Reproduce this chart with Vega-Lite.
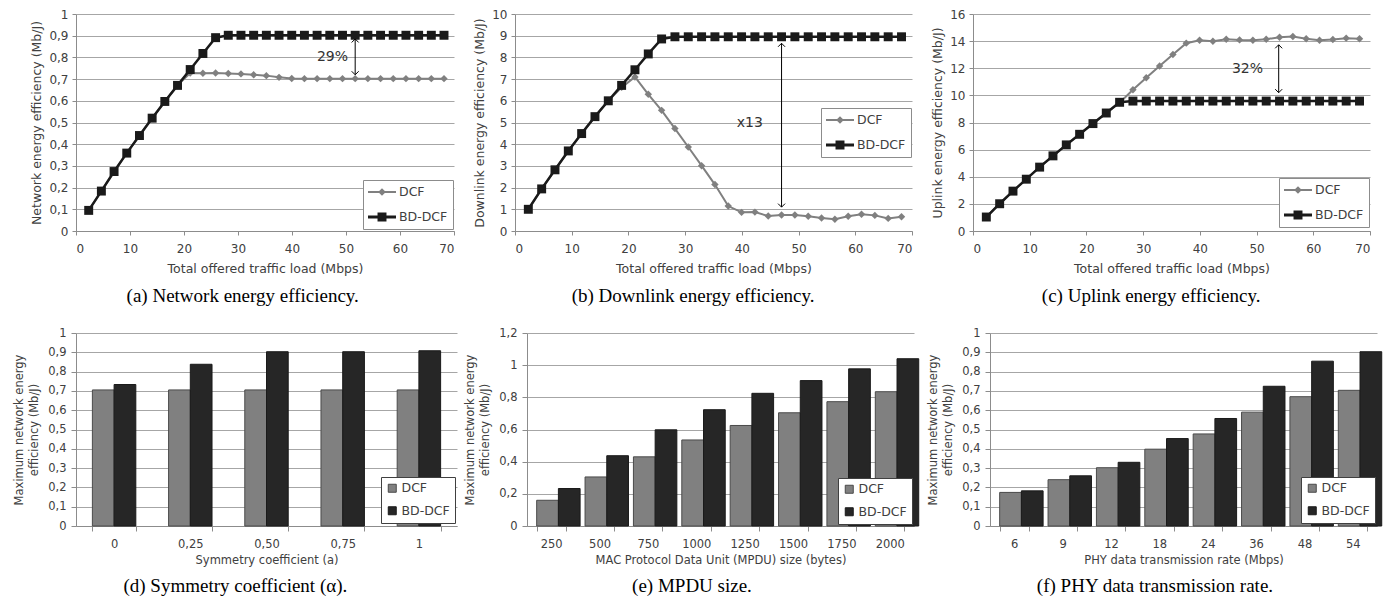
{
"$schema":"https://vega.github.io/schema/vega-lite/v6.json",
"padding":{"left":13,"top":8,"right":0,"bottom":0},
"background":"white",
"datasets":{
"a":[
{"x":2.35,"s":"DCF","y":0.095},{"x":4.7,"s":"DCF","y":0.184},{"x":7.05,"s":"DCF","y":0.274},{"x":9.4,"s":"DCF","y":0.359},{"x":11.75,"s":"DCF","y":0.44},{"x":14.1,"s":"DCF","y":0.52},{"x":16.45,"s":"DCF","y":0.597},{"x":18.8,"s":"DCF","y":0.671},{"x":21.15,"s":"DCF","y":0.728},{"x":23.5,"s":"DCF","y":0.727},{"x":25.85,"s":"DCF","y":0.728},{"x":28.2,"s":"DCF","y":0.726},{"x":30.55,"s":"DCF","y":0.724},{"x":32.9,"s":"DCF","y":0.72},{"x":35.25,"s":"DCF","y":0.716},{"x":37.6,"s":"DCF","y":0.708},{"x":39.95,"s":"DCF","y":0.703},{"x":42.3,"s":"DCF","y":0.702},{"x":44.65,"s":"DCF","y":0.702},{"x":47,"s":"DCF","y":0.702},{"x":49.35,"s":"DCF","y":0.702},{"x":51.7,"s":"DCF","y":0.702},{"x":54.05,"s":"DCF","y":0.702},{"x":56.4,"s":"DCF","y":0.702},{"x":58.75,"s":"DCF","y":0.702},{"x":61.1,"s":"DCF","y":0.702},{"x":63.45,"s":"DCF","y":0.702},{"x":65.8,"s":"DCF","y":0.702},{"x":68.15,"s":"DCF","y":0.702},
{"x":2.35,"s":"BD-DCF","y":0.095},{"x":4.7,"s":"BD-DCF","y":0.184},{"x":7.05,"s":"BD-DCF","y":0.274},{"x":9.4,"s":"BD-DCF","y":0.359},{"x":11.75,"s":"BD-DCF","y":0.44},{"x":14.1,"s":"BD-DCF","y":0.52},{"x":16.45,"s":"BD-DCF","y":0.597},{"x":18.8,"s":"BD-DCF","y":0.671},{"x":21.15,"s":"BD-DCF","y":0.744},{"x":23.5,"s":"BD-DCF","y":0.818},{"x":25.85,"s":"BD-DCF","y":0.891},{"x":28.2,"s":"BD-DCF","y":0.902},{"x":30.55,"s":"BD-DCF","y":0.902},{"x":32.9,"s":"BD-DCF","y":0.902},{"x":35.25,"s":"BD-DCF","y":0.902},{"x":37.6,"s":"BD-DCF","y":0.902},{"x":39.95,"s":"BD-DCF","y":0.902},{"x":42.3,"s":"BD-DCF","y":0.902},{"x":44.65,"s":"BD-DCF","y":0.902},{"x":47,"s":"BD-DCF","y":0.902},{"x":49.35,"s":"BD-DCF","y":0.902},{"x":51.7,"s":"BD-DCF","y":0.902},{"x":54.05,"s":"BD-DCF","y":0.902},{"x":56.4,"s":"BD-DCF","y":0.902},{"x":58.75,"s":"BD-DCF","y":0.902},{"x":61.1,"s":"BD-DCF","y":0.902},{"x":63.45,"s":"BD-DCF","y":0.902},{"x":65.8,"s":"BD-DCF","y":0.902},{"x":68.15,"s":"BD-DCF","y":0.902}
],
"b":[
{"x":2.35,"s":"DCF","y":1.0},{"x":4.7,"s":"DCF","y":1.94},{"x":7.05,"s":"DCF","y":2.82},{"x":9.4,"s":"DCF","y":3.69},{"x":11.75,"s":"DCF","y":4.49},{"x":14.1,"s":"DCF","y":5.27},{"x":16.45,"s":"DCF","y":6.0},{"x":18.8,"s":"DCF","y":6.62},{"x":21.15,"s":"DCF","y":7.1},{"x":23.5,"s":"DCF","y":6.3},{"x":25.85,"s":"DCF","y":5.56},{"x":28.2,"s":"DCF","y":4.72},{"x":30.55,"s":"DCF","y":3.87},{"x":32.9,"s":"DCF","y":3.01},{"x":35.25,"s":"DCF","y":2.14},{"x":37.6,"s":"DCF","y":1.15},{"x":39.95,"s":"DCF","y":0.86},{"x":42.3,"s":"DCF","y":0.87},{"x":44.65,"s":"DCF","y":0.69},{"x":47,"s":"DCF","y":0.74},{"x":49.35,"s":"DCF","y":0.74},{"x":51.7,"s":"DCF","y":0.68},{"x":54.05,"s":"DCF","y":0.6},{"x":56.4,"s":"DCF","y":0.54},{"x":58.75,"s":"DCF","y":0.68},{"x":61.1,"s":"DCF","y":0.77},{"x":63.45,"s":"DCF","y":0.72},{"x":65.8,"s":"DCF","y":0.58},{"x":68.15,"s":"DCF","y":0.66},
{"x":2.35,"s":"BD-DCF","y":1.0},{"x":4.7,"s":"BD-DCF","y":1.94},{"x":7.05,"s":"BD-DCF","y":2.82},{"x":9.4,"s":"BD-DCF","y":3.69},{"x":11.75,"s":"BD-DCF","y":4.49},{"x":14.1,"s":"BD-DCF","y":5.27},{"x":16.45,"s":"BD-DCF","y":6.0},{"x":18.8,"s":"BD-DCF","y":6.71},{"x":21.15,"s":"BD-DCF","y":7.43},{"x":23.5,"s":"BD-DCF","y":8.16},{"x":25.85,"s":"BD-DCF","y":8.85},{"x":28.2,"s":"BD-DCF","y":8.95},{"x":30.55,"s":"BD-DCF","y":8.95},{"x":32.9,"s":"BD-DCF","y":8.95},{"x":35.25,"s":"BD-DCF","y":8.95},{"x":37.6,"s":"BD-DCF","y":8.95},{"x":39.95,"s":"BD-DCF","y":8.95},{"x":42.3,"s":"BD-DCF","y":8.95},{"x":44.65,"s":"BD-DCF","y":8.95},{"x":47,"s":"BD-DCF","y":8.95},{"x":49.35,"s":"BD-DCF","y":8.95},{"x":51.7,"s":"BD-DCF","y":8.95},{"x":54.05,"s":"BD-DCF","y":8.95},{"x":56.4,"s":"BD-DCF","y":8.95},{"x":58.75,"s":"BD-DCF","y":8.95},{"x":61.1,"s":"BD-DCF","y":8.95},{"x":63.45,"s":"BD-DCF","y":8.95},{"x":65.8,"s":"BD-DCF","y":8.95},{"x":68.15,"s":"BD-DCF","y":8.95}
],
"c":[
{"x":2.35,"s":"DCF","y":1.03},{"x":4.7,"s":"DCF","y":2.01},{"x":7.05,"s":"DCF","y":2.94},{"x":9.4,"s":"DCF","y":3.82},{"x":11.75,"s":"DCF","y":4.71},{"x":14.1,"s":"DCF","y":5.54},{"x":16.45,"s":"DCF","y":6.35},{"x":18.8,"s":"DCF","y":7.13},{"x":21.15,"s":"DCF","y":7.92},{"x":23.5,"s":"DCF","y":8.7},{"x":25.85,"s":"DCF","y":9.45},{"x":28.2,"s":"DCF","y":10.42},{"x":30.55,"s":"DCF","y":11.3},{"x":32.9,"s":"DCF","y":12.16},{"x":35.25,"s":"DCF","y":13.01},{"x":37.6,"s":"DCF","y":13.85},{"x":39.95,"s":"DCF","y":14.07},{"x":42.3,"s":"DCF","y":13.99},{"x":44.65,"s":"DCF","y":14.14},{"x":47,"s":"DCF","y":14.09},{"x":49.35,"s":"DCF","y":14.07},{"x":51.7,"s":"DCF","y":14.14},{"x":54.05,"s":"DCF","y":14.29},{"x":56.4,"s":"DCF","y":14.34},{"x":58.75,"s":"DCF","y":14.17},{"x":61.1,"s":"DCF","y":14.07},{"x":63.45,"s":"DCF","y":14.12},{"x":65.8,"s":"DCF","y":14.22},{"x":68.15,"s":"DCF","y":14.17},
{"x":2.35,"s":"BD-DCF","y":1.03},{"x":4.7,"s":"BD-DCF","y":2.01},{"x":7.05,"s":"BD-DCF","y":2.94},{"x":9.4,"s":"BD-DCF","y":3.82},{"x":11.75,"s":"BD-DCF","y":4.71},{"x":14.1,"s":"BD-DCF","y":5.54},{"x":16.45,"s":"BD-DCF","y":6.35},{"x":18.8,"s":"BD-DCF","y":7.13},{"x":21.15,"s":"BD-DCF","y":7.92},{"x":23.5,"s":"BD-DCF","y":8.7},{"x":25.85,"s":"BD-DCF","y":9.49},{"x":28.2,"s":"BD-DCF","y":9.58},{"x":30.55,"s":"BD-DCF","y":9.58},{"x":32.9,"s":"BD-DCF","y":9.58},{"x":35.25,"s":"BD-DCF","y":9.58},{"x":37.6,"s":"BD-DCF","y":9.58},{"x":39.95,"s":"BD-DCF","y":9.58},{"x":42.3,"s":"BD-DCF","y":9.58},{"x":44.65,"s":"BD-DCF","y":9.58},{"x":47,"s":"BD-DCF","y":9.58},{"x":49.35,"s":"BD-DCF","y":9.58},{"x":51.7,"s":"BD-DCF","y":9.58},{"x":54.05,"s":"BD-DCF","y":9.58},{"x":56.4,"s":"BD-DCF","y":9.58},{"x":58.75,"s":"BD-DCF","y":9.58},{"x":61.1,"s":"BD-DCF","y":9.58},{"x":63.45,"s":"BD-DCF","y":9.58},{"x":65.8,"s":"BD-DCF","y":9.58},{"x":68.15,"s":"BD-DCF","y":9.58}
],
"a_ann":[{"k":"t","x":47.5,"y":0.8,"t":"29%"},{"k":"up","x":51.7,"y":0.885},{"k":"dn","x":51.7,"y":0.72},{"k":"r","x":51.7,"y":0.885,"y2":0.72}],
"b_ann":[{"k":"t","x":41.4,"y":5.0,"t":"x13"},{"k":"up","x":47,"y":8.65},{"k":"dn","x":47,"y":1.1},{"k":"r","x":47,"y":8.65,"y2":1.1}],
"c_ann":[{"k":"t","x":48.4,"y":11.95,"t":"32%"},{"k":"up","x":53.9,"y":13.73},{"k":"dn","x":53.9,"y":10.2},{"k":"r","x":53.9,"y":13.73,"y2":10.2}],
"d":[
{"c":"0","s":"DCF","v":0.705},{"c":"0","s":"BD-DCF","v":0.733},
{"c":"0,25","s":"DCF","v":0.705},{"c":"0,25","s":"BD-DCF","v":0.838},
{"c":"0,50","s":"DCF","v":0.705},{"c":"0,50","s":"BD-DCF","v":0.903},
{"c":"0,75","s":"DCF","v":0.705},{"c":"0,75","s":"BD-DCF","v":0.903},
{"c":"1","s":"DCF","v":0.705},{"c":"1","s":"BD-DCF","v":0.908}
],
"e":[
{"c":"250","s":"DCF","v":0.16},{"c":"250","s":"BD-DCF","v":0.233},
{"c":"500","s":"DCF","v":0.305},{"c":"500","s":"BD-DCF","v":0.437},
{"c":"750","s":"DCF","v":0.43},{"c":"750","s":"BD-DCF","v":0.598},
{"c":"1000","s":"DCF","v":0.535},{"c":"1000","s":"BD-DCF","v":0.723},
{"c":"1250","s":"DCF","v":0.625},{"c":"1250","s":"BD-DCF","v":0.825},
{"c":"1500","s":"DCF","v":0.704},{"c":"1500","s":"BD-DCF","v":0.904},
{"c":"1750","s":"DCF","v":0.773},{"c":"1750","s":"BD-DCF","v":0.977},
{"c":"2000","s":"DCF","v":0.835},{"c":"2000","s":"BD-DCF","v":1.04}
],
"f":[
{"c":"6","s":"DCF","v":0.174},{"c":"6","s":"BD-DCF","v":0.182},
{"c":"9","s":"DCF","v":0.24},{"c":"9","s":"BD-DCF","v":0.26},
{"c":"12","s":"DCF","v":0.302},{"c":"12","s":"BD-DCF","v":0.33},
{"c":"18","s":"DCF","v":0.398},{"c":"18","s":"BD-DCF","v":0.453},
{"c":"24","s":"DCF","v":0.477},{"c":"24","s":"BD-DCF","v":0.557},
{"c":"36","s":"DCF","v":0.59},{"c":"36","s":"BD-DCF","v":0.724},
{"c":"48","s":"DCF","v":0.67},{"c":"48","s":"BD-DCF","v":0.854},
{"c":"54","s":"DCF","v":0.703},{"c":"54","s":"BD-DCF","v":0.903}
]
},
"spacing":21,
"resolve":{"scale":{"color":"independent","shape":"independent","stroke":"independent"},"legend":{"color":"independent","shape":"independent","stroke":"independent"}},
"vconcat":[
{"hconcat":[
{"width":378,"height":217,"title":{"text":"(a) Network energy efficiency.","offset":12},
"encoding":{"x":{"field":"x","type":"quantitative","scale":{"domain":[0,70],"nice":false},"axis":{"values":[0,10,20,30,40,50,60,70],"title":"Total offered  traffic load (Mbps)","grid":false,"tickSize":4,"labelPadding":8,"titlePadding":8,"labelFontSize":12,"titleFontSize":12.5}},
"y":{"field":"y","type":"quantitative","scale":{"domain":[0,1],"nice":false},"axis":{"values":[0,0.1,0.2,0.3,0.4,0.5,0.6,0.7,0.8,0.9,1],"labelExpr":"replace(format(datum.value,'~g'),'.',',')","title":"Network energy efficiency  (Mb/J)","grid":true,"tickSize":4,"labelPadding":4,"titlePadding":5,"labelFontSize":12,"titleFontSize":12.5}}},
"layer":[
{"data":{"name":"a"},"transform":[{"filter":"datum.s=='DCF'"}],"mark":{"type":"line","color":"#808080","strokeWidth":2}},
{"data":{"name":"a"},"transform":[{"filter":"datum.s=='DCF'"}],"mark":{"type":"point","shape":"diamond","filled":true,"color":"#808080","size":55,"opacity":1}},
{"data":{"name":"a"},"transform":[{"filter":"datum.s=='BD-DCF'"}],"mark":{"type":"line","color":"#1a1a1a","strokeWidth":2.5}},
{"data":{"name":"a"},"transform":[{"filter":"datum.s=='BD-DCF'"}],"mark":{"type":"point","shape":"square","filled":true,"color":"#1a1a1a","size":80,"opacity":1}},
{"data":{"name":"a"},"transform":[{"filter":"false"}],"mark":{"type":"point","filled":true,"opacity":1},"encoding":{
"color":{"field":"s","type":"nominal","scale":{"domain":["DCF","BD-DCF"],"range":["#808080","#1a1a1a"]},"legend":{"title":null,"orient":"none","offset":0,"legendX":287,"legendY":166,"strokeColor":"#8c8c8c","fillColor":"#ffffff","padding":5,"labelFontSize":12.5,"labelColor":"#404040","symbolSize":196,"rowPadding":11,"symbolOpacity":1,"symbolStrokeWidth":0,"labelOffset":17}},
"shape":{"field":"s","type":"nominal","scale":{"domain":["DCF","BD-DCF"],"range":["M-1,-0.14H3V0.14H-1Z M1,-0.55L1.55,0L1,0.55L0.45,0Z","M-1,-0.2H3V0.2H-1Z M0.36,-0.64H1.64V0.64H0.36Z"]},"legend":{"title":null,"orient":"none","offset":0,"legendX":287,"legendY":166,"strokeColor":"#8c8c8c","fillColor":"#ffffff","padding":5,"labelFontSize":12.5,"labelColor":"#404040","symbolSize":196,"rowPadding":11,"symbolOpacity":1,"symbolStrokeWidth":0,"labelOffset":17}}}},
{"data":{"name":"a_ann"},"transform":[{"filter":"datum.k=='r'"}],"mark":{"type":"rule","color":"#000000","strokeWidth":1},"encoding":{"y2":{"field":"y2"}}},
{"data":{"name":"a_ann"},"transform":[{"filter":"datum.k=='up'"}],"mark":{"type":"point","shape":"M-1,1L0,0L1,1","filled":false,"color":"#000000","strokeWidth":1,"size":49,"opacity":1}},
{"data":{"name":"a_ann"},"transform":[{"filter":"datum.k=='dn'"}],"mark":{"type":"point","shape":"M-1,-1L0,0L1,-1","filled":false,"color":"#000000","strokeWidth":1,"size":49,"opacity":1}},
{"data":{"name":"a_ann"},"transform":[{"filter":"datum.k=='t'"}],"mark":{"type":"text","fontSize":14,"color":"#333333"},"encoding":{"text":{"field":"t"}}}
]},
{"width":397,"height":217,"title":{"text":"(b) Downlink energy efficiency.","offset":12},
"encoding":{"x":{"field":"x","type":"quantitative","scale":{"domain":[0,70],"nice":false},"axis":{"values":[0,10,20,30,40,50,60,70],"title":"Total offered  traffic load (Mbps)","grid":false,"tickSize":4,"labelPadding":8,"titlePadding":8,"labelFontSize":12,"titleFontSize":12.5}},
"y":{"field":"y","type":"quantitative","scale":{"domain":[0,10],"nice":false},"axis":{"values":[0,1,2,3,4,5,6,7,8,9,10],"title":"Downlink energy efficiency  (Mb/J)","grid":true,"tickSize":4,"labelPadding":4,"titlePadding":5,"labelFontSize":12,"titleFontSize":12.5}}},
"layer":[
{"data":{"name":"b"},"transform":[{"filter":"datum.s=='DCF'"}],"mark":{"type":"line","color":"#808080","strokeWidth":2}},
{"data":{"name":"b"},"transform":[{"filter":"datum.s=='DCF'"}],"mark":{"type":"point","shape":"diamond","filled":true,"color":"#808080","size":55,"opacity":1}},
{"data":{"name":"b"},"transform":[{"filter":"datum.s=='BD-DCF'"}],"mark":{"type":"line","color":"#1a1a1a","strokeWidth":2.5}},
{"data":{"name":"b"},"transform":[{"filter":"datum.s=='BD-DCF'"}],"mark":{"type":"point","shape":"square","filled":true,"color":"#1a1a1a","size":80,"opacity":1}},
{"data":{"name":"b"},"transform":[{"filter":"false"}],"mark":{"type":"point","filled":true,"opacity":1},"encoding":{
"color":{"field":"s","type":"nominal","scale":{"domain":["DCF","BD-DCF"],"range":["#808080","#1a1a1a"]},"legend":{"title":null,"orient":"none","offset":0,"legendX":306,"legendY":94,"strokeColor":"#8c8c8c","fillColor":"#ffffff","padding":5,"labelFontSize":12.5,"labelColor":"#404040","symbolSize":196,"rowPadding":11,"symbolOpacity":1,"symbolStrokeWidth":0,"labelOffset":17}},
"shape":{"field":"s","type":"nominal","scale":{"domain":["DCF","BD-DCF"],"range":["M-1,-0.14H3V0.14H-1Z M1,-0.55L1.55,0L1,0.55L0.45,0Z","M-1,-0.2H3V0.2H-1Z M0.36,-0.64H1.64V0.64H0.36Z"]},"legend":{"title":null,"orient":"none","offset":0,"legendX":306,"legendY":94,"strokeColor":"#8c8c8c","fillColor":"#ffffff","padding":5,"labelFontSize":12.5,"labelColor":"#404040","symbolSize":196,"rowPadding":11,"symbolOpacity":1,"symbolStrokeWidth":0,"labelOffset":17}}}},
{"data":{"name":"b_ann"},"transform":[{"filter":"datum.k=='r'"}],"mark":{"type":"rule","color":"#000000","strokeWidth":1},"encoding":{"y2":{"field":"y2"}}},
{"data":{"name":"b_ann"},"transform":[{"filter":"datum.k=='up'"}],"mark":{"type":"point","shape":"M-1,1L0,0L1,1","filled":false,"color":"#000000","strokeWidth":1,"size":49,"opacity":1}},
{"data":{"name":"b_ann"},"transform":[{"filter":"datum.k=='dn'"}],"mark":{"type":"point","shape":"M-1,-1L0,0L1,-1","filled":false,"color":"#000000","strokeWidth":1,"size":49,"opacity":1}},
{"data":{"name":"b_ann"},"transform":[{"filter":"datum.k=='t'"}],"mark":{"type":"text","fontSize":14,"color":"#333333"},"encoding":{"text":{"field":"t"}}}
]},
{"width":397,"height":217,"title":{"text":"(c) Uplink energy efficiency.","offset":12},
"encoding":{"x":{"field":"x","type":"quantitative","scale":{"domain":[0,70],"nice":false},"axis":{"values":[0,10,20,30,40,50,60,70],"title":"Total offered  traffic load (Mbps)","grid":false,"tickSize":4,"labelPadding":8,"titlePadding":8,"labelFontSize":12,"titleFontSize":12.5}},
"y":{"field":"y","type":"quantitative","scale":{"domain":[0,16],"nice":false},"axis":{"values":[0,2,4,6,8,10,12,14,16],"title":"Uplink energy efficiency  (Mb/J)","grid":true,"tickSize":4,"labelPadding":4,"titlePadding":5,"labelFontSize":12,"titleFontSize":12.5}}},
"layer":[
{"data":{"name":"c"},"transform":[{"filter":"datum.s=='DCF'"}],"mark":{"type":"line","color":"#808080","strokeWidth":2}},
{"data":{"name":"c"},"transform":[{"filter":"datum.s=='DCF'"}],"mark":{"type":"point","shape":"diamond","filled":true,"color":"#808080","size":55,"opacity":1}},
{"data":{"name":"c"},"transform":[{"filter":"datum.s=='BD-DCF'"}],"mark":{"type":"line","color":"#1a1a1a","strokeWidth":2.5}},
{"data":{"name":"c"},"transform":[{"filter":"datum.s=='BD-DCF'"}],"mark":{"type":"point","shape":"square","filled":true,"color":"#1a1a1a","size":80,"opacity":1}},
{"data":{"name":"c"},"transform":[{"filter":"false"}],"mark":{"type":"point","filled":true,"opacity":1},"encoding":{
"color":{"field":"s","type":"nominal","scale":{"domain":["DCF","BD-DCF"],"range":["#808080","#1a1a1a"]},"legend":{"title":null,"orient":"none","offset":0,"legendX":306,"legendY":164,"strokeColor":"#8c8c8c","fillColor":"#ffffff","padding":5,"labelFontSize":12.5,"labelColor":"#404040","symbolSize":196,"rowPadding":11,"symbolOpacity":1,"symbolStrokeWidth":0,"labelOffset":17}},
"shape":{"field":"s","type":"nominal","scale":{"domain":["DCF","BD-DCF"],"range":["M-1,-0.14H3V0.14H-1Z M1,-0.55L1.55,0L1,0.55L0.45,0Z","M-1,-0.2H3V0.2H-1Z M0.36,-0.64H1.64V0.64H0.36Z"]},"legend":{"title":null,"orient":"none","offset":0,"legendX":306,"legendY":164,"strokeColor":"#8c8c8c","fillColor":"#ffffff","padding":5,"labelFontSize":12.5,"labelColor":"#404040","symbolSize":196,"rowPadding":11,"symbolOpacity":1,"symbolStrokeWidth":0,"labelOffset":17}}}},
{"data":{"name":"c_ann"},"transform":[{"filter":"datum.k=='r'"}],"mark":{"type":"rule","color":"#000000","strokeWidth":1},"encoding":{"y2":{"field":"y2"}}},
{"data":{"name":"c_ann"},"transform":[{"filter":"datum.k=='up'"}],"mark":{"type":"point","shape":"M-1,1L0,0L1,1","filled":false,"color":"#000000","strokeWidth":1,"size":49,"opacity":1}},
{"data":{"name":"c_ann"},"transform":[{"filter":"datum.k=='dn'"}],"mark":{"type":"point","shape":"M-1,-1L0,0L1,-1","filled":false,"color":"#000000","strokeWidth":1,"size":49,"opacity":1}},
{"data":{"name":"c_ann"},"transform":[{"filter":"datum.k=='t'"}],"mark":{"type":"text","fontSize":14,"color":"#333333"},"encoding":{"text":{"field":"t"}}}
]}
],"spacing":18,
"resolve":{"scale":{"color":"independent","shape":"independent","stroke":"independent"},"legend":{"color":"independent","shape":"independent","stroke":"independent"}}},
{"hconcat":[
{"width":381,"height":193,"title":{"text":"(d) Symmetry coefficient (α).","offset":11},
"data":{"name":"d"},"mark":{"type":"bar","strokeWidth":1},
"encoding":{
"x":{"field":"c","type":"nominal","sort":null,"scale":{"paddingInner":0.43,"paddingOuter":0.215},"axis":{"title":"Symmetry coefficient (a)","labelAngle":0,"tickBand":"extent","tickSize":5,"labelPadding":7,"titlePadding":5,"labelFontSize":11.5,"titleFontSize":11.5}},
"xOffset":{"field":"s","type":"nominal","scale":{"domain":["DCF","BD-DCF"],"paddingInner":0,"paddingOuter":0}},
"y":{"field":"v","type":"quantitative","scale":{"domain":[0,1],"nice":false},"axis":{"values":[0,0.1,0.2,0.3,0.4,0.5,0.6,0.7,0.8,0.9,1],"labelExpr":"replace(format(datum.value,'~g'),'.',',')","title":["Maximum network energy","efficiency (Mb/J)"],"titleLineHeight":15,"grid":true,"tickSize":5,"labelPadding":5,"titlePadding":8,"labelFontSize":11.5,"titleFontSize":11.5}},
"color":{"field":"s","type":"nominal","scale":{"domain":["DCF","BD-DCF"],"range":["#808080","#262626"]},"legend":{"title":null,"orient":"none","offset":0,"legendX":305,"legendY":144,"strokeColor":"#404040","fillColor":"#ffffff","padding":5,"labelFontSize":12.5,"labelColor":"#404040","symbolType":"square","symbolSize":64,"rowPadding":9.5,"labelOffset":3,"symbolStrokeWidth":1}},
"stroke":{"field":"s","type":"nominal","scale":{"domain":["DCF","BD-DCF"],"range":["#4a4a4a","#1a1a1a"]},"legend":{"title":null,"orient":"none","offset":0,"legendX":305,"legendY":144,"strokeColor":"#404040","fillColor":"#ffffff","padding":5,"labelFontSize":12.5,"labelColor":"#404040","symbolType":"square","symbolSize":64,"rowPadding":9.5,"labelOffset":3,"symbolStrokeWidth":1}}
}},
{"width":387,"height":193,"title":{"text":"(e) MPDU size.","offset":11},
"data":{"name":"e"},"mark":{"type":"bar","strokeWidth":1},
"encoding":{
"x":{"field":"c","type":"nominal","sort":null,"scale":{"paddingInner":0.4,"paddingOuter":0.2},"axis":{"title":"MAC Protocol Data Unit (MPDU) size (bytes)","labelAngle":0,"tickBand":"extent","tickSize":5,"labelPadding":7,"titlePadding":5,"labelFontSize":11.5,"titleFontSize":11.5}},
"xOffset":{"field":"s","type":"nominal","scale":{"domain":["DCF","BD-DCF"],"paddingInner":0,"paddingOuter":0}},
"y":{"field":"v","type":"quantitative","scale":{"domain":[0,1.2],"nice":false},"axis":{"values":[0,0.2,0.4,0.6,0.8,1,1.2],"labelExpr":"replace(format(datum.value,'~g'),'.',',')","title":["Maximum network energy","efficiency (Mb/J)"],"titleLineHeight":15,"grid":true,"tickSize":5,"labelPadding":5,"titlePadding":8,"labelFontSize":11.5,"titleFontSize":11.5}},
"color":{"field":"s","type":"nominal","scale":{"domain":["DCF","BD-DCF"],"range":["#808080","#262626"]},"legend":{"title":null,"orient":"none","offset":0,"legendX":311,"legendY":145,"strokeColor":"#404040","fillColor":"#ffffff","padding":5,"labelFontSize":12.5,"labelColor":"#404040","symbolType":"square","symbolSize":64,"rowPadding":9.5,"labelOffset":3,"symbolStrokeWidth":1}},
"stroke":{"field":"s","type":"nominal","scale":{"domain":["DCF","BD-DCF"],"range":["#4a4a4a","#1a1a1a"]},"legend":{"title":null,"orient":"none","offset":0,"legendX":311,"legendY":145,"strokeColor":"#404040","fillColor":"#ffffff","padding":5,"labelFontSize":12.5,"labelColor":"#404040","symbolType":"square","symbolSize":64,"rowPadding":9.5,"labelOffset":3,"symbolStrokeWidth":1}}
}},
{"width":387,"height":193,"title":{"text":"(f) PHY data transmission rate.","offset":11},
"data":{"name":"f"},"mark":{"type":"bar","strokeWidth":1},
"encoding":{
"x":{"field":"c","type":"nominal","sort":null,"scale":{"paddingInner":0.4,"paddingOuter":0.2},"axis":{"title":"PHY data transmission rate (Mbps)","labelAngle":0,"tickBand":"extent","tickSize":5,"labelPadding":7,"titlePadding":5,"labelFontSize":11.5,"titleFontSize":11.5}},
"xOffset":{"field":"s","type":"nominal","scale":{"domain":["DCF","BD-DCF"],"paddingInner":0,"paddingOuter":0}},
"y":{"field":"v","type":"quantitative","scale":{"domain":[0,1],"nice":false},"axis":{"values":[0,0.1,0.2,0.3,0.4,0.5,0.6,0.7,0.8,0.9,1],"labelExpr":"replace(format(datum.value,'~g'),'.',',')","title":["Maximum network energy","efficiency (Mb/J)"],"titleLineHeight":15,"grid":true,"tickSize":5,"labelPadding":5,"titlePadding":8,"labelFontSize":11.5,"titleFontSize":11.5}},
"color":{"field":"s","type":"nominal","scale":{"domain":["DCF","BD-DCF"],"range":["#808080","#262626"]},"legend":{"title":null,"orient":"none","offset":0,"legendX":311,"legendY":144,"strokeColor":"#404040","fillColor":"#ffffff","padding":5,"labelFontSize":12.5,"labelColor":"#404040","symbolType":"square","symbolSize":64,"rowPadding":9.5,"labelOffset":3,"symbolStrokeWidth":1}},
"stroke":{"field":"s","type":"nominal","scale":{"domain":["DCF","BD-DCF"],"range":["#4a4a4a","#1a1a1a"]},"legend":{"title":null,"orient":"none","offset":0,"legendX":311,"legendY":144,"strokeColor":"#404040","fillColor":"#ffffff","padding":5,"labelFontSize":12.5,"labelColor":"#404040","symbolType":"square","symbolSize":64,"rowPadding":9.5,"labelOffset":3,"symbolStrokeWidth":1}}
}}
],"spacing":7,
"resolve":{"scale":{"color":"independent","shape":"independent","stroke":"independent"},"legend":{"color":"independent","shape":"independent","stroke":"independent"}}}
],
"config":{
"font":"DejaVu Sans",
"view":{"stroke":null},
"axis":{"labelColor":"#404040","titleColor":"#404040","domainColor":"#8c8c8c","tickColor":"#8c8c8c","gridColor":"#a6a6a6","titleFontWeight":"normal","labelFont":"DejaVu Sans","titleFont":"DejaVu Sans"},
"title":{"font":"Liberation Serif","fontSize":19,"fontWeight":"normal","color":"#000000","orient":"bottom","anchor":"middle","frame":"bounds"},
"legend":{"labelFont":"DejaVu Sans"}
}
}
